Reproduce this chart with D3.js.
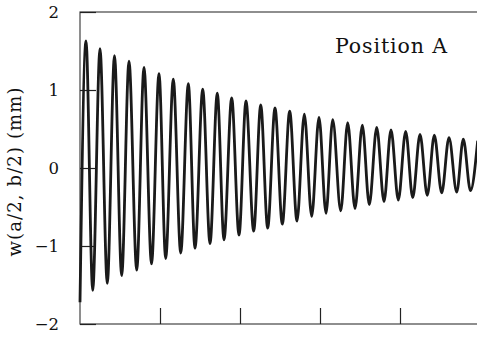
<!DOCTYPE html>
<html>
<head>
<meta charset="utf-8">
<script src="https://cdn.jsdelivr.net/npm/d3@7"></script>
<style>
  html, body { margin: 0; padding: 0; background: #fff; }
  svg { display: block; }
  text { font-family: "DejaVu Serif", "Liberation Serif", serif; fill: #111; }
</style>
</head>
<body>
<svg id="chart" width="477" height="337"></svg>
<script>
// ---- Data ----
// Times of the local maxima and their displacements (mm)
const peakTimes = [0.075, 0.25, 0.431, 0.6125, 0.8, 0.9875, 1.166, 1.354, 1.534, 1.716,
  1.896, 2.075, 2.259, 2.4375, 2.621, 2.804, 2.9875, 3.159, 3.346, 3.529,
  3.709, 3.8875, 4.071, 4.25, 4.429, 4.6125, 4.791, 4.971];
const peakValues = [1.63, 1.53, 1.44, 1.37, 1.29, 1.21, 1.14, 1.08, 1.01, 0.96,
  0.90, 0.86, 0.81, 0.77, 0.73, 0.69, 0.65, 0.62, 0.58, 0.55,
  0.52, 0.49, 0.47, 0.43, 0.42, 0.39, 0.37, 0.35];
// Times of the local minima and their displacements (mm)
const troughTimes = [0.0, 0.159, 0.341, 0.521, 0.709, 0.894, 1.071, 1.259, 1.4375, 1.625,
  1.8, 1.9875, 2.171, 2.346, 2.529, 2.7125, 2.896, 3.075, 3.259, 3.4375,
  3.616, 3.8, 3.979, 4.159, 4.341, 4.521, 4.709, 4.881];
const troughValues = [-1.72, -1.57, -1.48, -1.38, -1.31, -1.23, -1.16, -1.09, -1.03, -0.97,
  -0.92, -0.86, -0.81, -0.77, -0.72, -0.68, -0.62, -0.58, -0.55, -0.52,
  -0.47, -0.43, -0.41, -0.38, -0.35, -0.32, -0.31, -0.29];
const yTicks = [-2, -1, 0, 1, 2];
const xTicks = [1, 2, 3, 4];
const yLabel = "w(a/2, b/2) (mm)";
const panelLabel = "Position A";

// ---- Layout ----
const svg = d3.select("#chart");
const mLeft = 80, mRight = 480, mTop = 12, mBottom = 324;
const x = d3.scaleLinear().domain([0, 5]).range([mLeft, mRight]);
const y = d3.scaleLinear().domain([-2, 2]).range([mBottom, mTop]);

const points = peakTimes.map((t, i) => ({t, v: peakValues[i]}))
  .concat(troughTimes.map((t, i) => ({t, v: troughValues[i]})))
  .sort((a, b) => a.t - b.t);

// Frame
svg.append("rect")
  .attr("x", mLeft).attr("y", mTop)
  .attr("width", mRight - mLeft).attr("height", mBottom - mTop)
  .attr("fill", "none").attr("stroke", "#444").attr("stroke-width", 1.2);

// Y axis (inward ticks)
const yAxis = d3.axisLeft(y).tickValues(yTicks).tickSize(-16).tickPadding(20)
  .tickFormat(d => d < 0 ? "\u2212" + Math.abs(d) : String(d));
const gy = svg.append("g").attr("transform", `translate(${mLeft},0)`).call(yAxis);
gy.select(".domain").remove();
gy.selectAll(".tick line").attr("stroke", "#222").attr("stroke-width", 1.2);
gy.selectAll(".tick text").attr("font-size", 16.5)
  .attr("font-family", "DejaVu Serif").attr("fill", "#111")
  .attr("x", -21);

// X axis (inward ticks, no labels)
const xAxis = d3.axisBottom(x).tickValues(xTicks).tickSize(-16).tickFormat("");
const gx = svg.append("g").attr("transform", `translate(0,${mBottom})`).call(xAxis);
gx.select(".domain").remove();
gx.selectAll(".tick line").attr("stroke", "#222").attr("stroke-width", 1.2);

// Curve
const line = d3.line().x(d => x(d.t)).y(d => y(d.v)).curve(d3.curveMonotoneX);
svg.append("path").datum(points)
  .attr("d", line)
  .attr("fill", "none").attr("stroke", "#1a1a1a")
  .attr("stroke-width", 2.8).attr("stroke-linejoin", "round");

// Labels
svg.append("text")
  .attr("transform", `translate(21,${(mTop + mBottom) / 2 + 4}) rotate(-90)`)
  .attr("text-anchor", "middle").attr("font-size", 18)
  .attr("textLength", 169)
  .text(yLabel);

svg.append("text")
  .attr("x", 335).attr("y", 53)
  .attr("font-size", 20.5)
  .attr("textLength", 112)
  .text(panelLabel);
</script>
</body>
</html>
